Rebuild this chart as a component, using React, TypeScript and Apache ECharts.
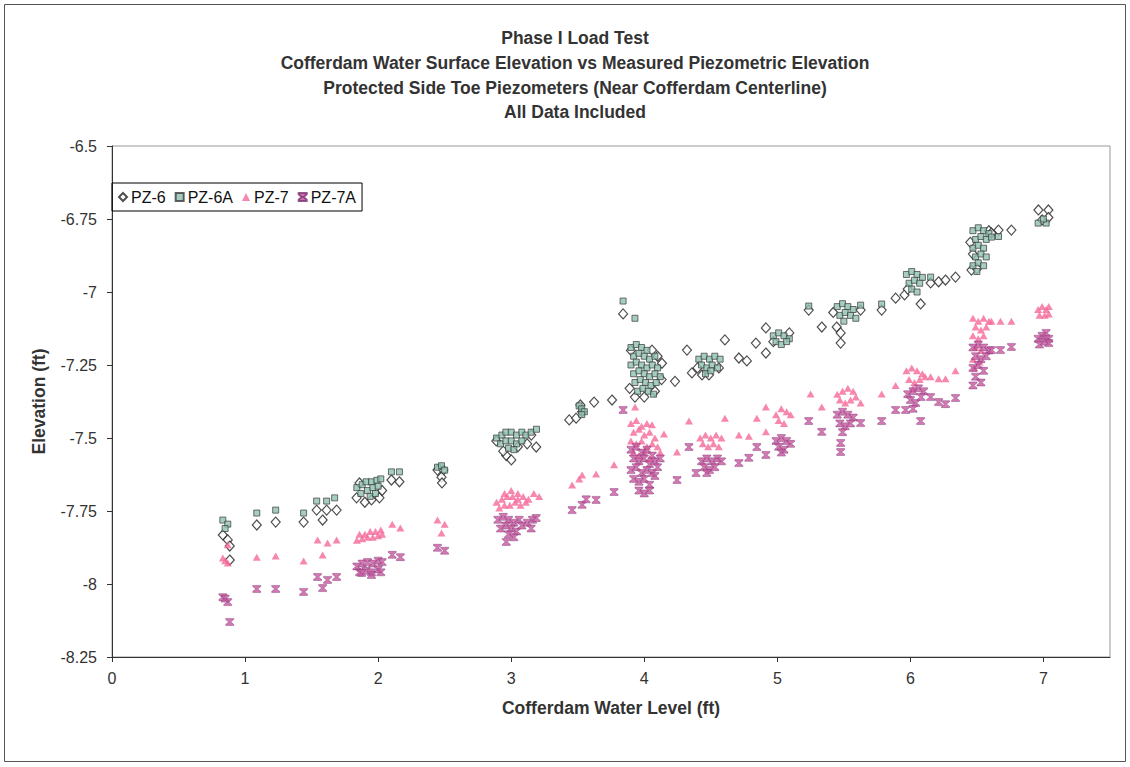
import React, { useEffect, useRef } from "react";
import * as echarts from "echarts";

const titleLines = [
  "Phase I Load Test",
  "Cofferdam Water Surface Elevation vs Measured Piezometric Elevation",
  "Protected Side Toe Piezometers (Near Cofferdam Centerline)",
  "All Data Included",
];
const xAxisName = "Cofferdam Water Level (ft)";
const yAxisName = "Elevation (ft)";
const seriesNames = ["PZ-6", "PZ-6A", "PZ-7", "PZ-7A"];

const pz6: number[][] = [
  [0.833, -7.832], [0.87, -7.849], [0.885, -7.87], [0.885, -7.918],
  [1.088, -7.798], [1.23, -7.788], [1.44, -7.788],
  [1.538, -7.747], [1.613, -7.747], [1.688, -7.747], [1.583, -7.781],
  [1.838, -7.705], [1.95, -7.712], [2.01, -7.705], [1.86, -7.654], [2.03, -7.68], [1.9, -7.72],
  [2.1, -7.644], [2.16, -7.65],
  [2.446, -7.61], [2.49, -7.61], [2.476, -7.634], [2.48, -7.654],
  [2.888, -7.51], [2.963, -7.56], [3.001, -7.575], [3.188, -7.531], [3.151, -7.49], [2.94, -7.545], [3.05, -7.53], [3.12, -7.52],
  [3.436, -7.438], [3.488, -7.432], [3.533, -7.41], [3.52, -7.387], [3.623, -7.377], [3.758, -7.37],
  [3.841, -7.075],
  [4.058, -7.199], [4.133, -7.244], [4.231, -7.306],
  [3.89, -7.33], [3.93, -7.36], [4.0, -7.36], [4.08, -7.34], [4.13, -7.3], [3.9, -7.2], [4.1, -7.22],
  [4.321, -7.199], [4.358, -7.277], [4.434, -7.284], [4.486, -7.284], [4.561, -7.26], [4.606, -7.164], [4.4, -7.26],
  [4.711, -7.226], [4.771, -7.236], [4.839, -7.175], [4.914, -7.123], [4.914, -7.209], [4.97, -7.17], [5.09, -7.14],
  [5.236, -7.062], [5.334, -7.12], [5.446, -7.12], [5.476, -7.14], [5.476, -7.175], [5.626, -7.062], [5.42, -7.07],
  [5.784, -7.062], [5.889, -7.021], [5.956, -7.01], [6.077, -7.041], [6.152, -6.969], [6.212, -6.965], [6.264, -6.959], [6.339, -6.949], [5.98, -6.99],
  [6.459, -6.925], [6.47, -6.87], [6.45, -6.83], [6.59, -6.79], [6.609, -6.798], [6.662, -6.788], [6.759, -6.788], [6.5, -6.92],
  [6.962, -6.719], [7.037, -6.719], [6.99, -6.753], [7.037, -6.745],
];

const pz6a: number[][] = [
  [0.833, -7.781], [0.87, -7.795], [0.85, -7.81],
  [1.088, -7.757], [1.23, -7.747], [1.44, -7.757],
  [1.538, -7.716], [1.613, -7.716], [1.673, -7.705],
  [1.84, -7.67], [1.88, -7.66], [1.91, -7.65], [1.95, -7.65], [1.99, -7.645], [2.02, -7.64],
  [1.87, -7.69], [1.92, -7.68], [1.96, -7.67], [2.0, -7.665], [1.94, -7.7], [1.98, -7.69],
  [2.1, -7.616], [2.16, -7.616],
  [2.446, -7.6], [2.476, -7.595], [2.5, -7.61],
  [2.89, -7.5], [2.93, -7.49], [2.96, -7.48], [3.0, -7.48], [3.04, -7.49], [3.08, -7.48], [3.11, -7.49], [3.15, -7.48], [3.19, -7.47],
  [2.92, -7.52], [2.96, -7.51], [3.0, -7.51], [3.04, -7.52], [3.08, -7.51], [2.98, -7.535], [3.02, -7.54],
  [3.51, -7.39], [3.53, -7.4], [3.55, -7.41], [3.53, -7.42],
  [3.841, -7.031], [3.93, -7.09],
  [3.9, -7.19], [3.94, -7.18], [3.98, -7.19], [4.02, -7.2], [3.92, -7.22], [3.96, -7.21], [4.0, -7.22], [4.04, -7.23], [4.08, -7.22],
  [3.9, -7.25], [3.94, -7.24], [3.98, -7.25], [4.02, -7.26], [4.06, -7.25], [4.1, -7.26],
  [3.92, -7.28], [3.96, -7.27], [4.0, -7.28], [4.04, -7.29], [4.08, -7.28], [4.12, -7.29],
  [3.93, -7.31], [3.97, -7.3], [4.01, -7.31], [4.05, -7.32], [4.09, -7.31],
  [3.95, -7.34], [3.99, -7.33], [4.03, -7.34], [4.07, -7.35],
  [4.41, -7.23], [4.45, -7.22], [4.49, -7.23], [4.53, -7.22], [4.57, -7.23],
  [4.43, -7.25], [4.47, -7.26], [4.51, -7.25], [4.55, -7.26], [4.46, -7.28], [4.5, -7.27],
  [4.97, -7.15], [5.01, -7.14], [5.05, -7.15], [5.09, -7.16], [4.99, -7.17], [5.03, -7.18], [5.07, -7.17],
  [5.236, -7.048],
  [5.45, -7.05], [5.49, -7.04], [5.53, -7.05], [5.57, -7.06], [5.47, -7.08], [5.51, -7.07], [5.55, -7.08], [5.59, -7.09], [5.5, -7.1], [5.626, -7.045],
  [5.784, -7.041],
  [5.97, -6.94], [6.01, -6.93], [6.05, -6.94], [6.09, -6.95], [5.99, -6.97], [6.03, -6.96], [6.07, -6.97], [6.01, -6.99], [6.05, -7.0],
  [6.152, -6.949],
  [6.47, -6.79], [6.51, -6.78], [6.55, -6.79], [6.59, -6.8], [6.49, -6.82], [6.53, -6.81], [6.57, -6.82],
  [6.47, -6.85], [6.51, -6.84], [6.55, -6.85], [6.49, -6.88], [6.53, -6.87], [6.57, -6.88],
  [6.47, -6.91], [6.51, -6.9], [6.55, -6.91], [6.5, -6.93],
  [6.609, -6.812], [6.662, -6.81],
  [6.96, -6.764], [7.02, -6.764], [7.0, -6.75],
];

const pz7: number[][] = [
  [0.833, -7.911], [0.87, -7.928], [0.85, -7.92], [0.87, -7.866],
  [1.088, -7.908], [1.23, -7.904], [1.44, -7.921],
  [1.545, -7.849], [1.62, -7.86], [1.688, -7.849], [1.583, -7.901],
  [1.84, -7.85], [1.88, -7.845], [1.92, -7.84], [1.96, -7.84], [2.0, -7.835], [2.03, -7.83],
  [1.86, -7.83], [1.9, -7.83], [1.94, -7.82], [1.98, -7.82], [2.02, -7.815],
  [2.106, -7.795], [2.167, -7.808],
  [2.446, -7.781], [2.5, -7.795], [2.476, -7.825],
  [2.89, -7.72], [2.93, -7.71], [2.97, -7.7], [3.01, -7.7], [3.05, -7.71], [3.09, -7.7], [3.13, -7.71], [3.17, -7.69], [3.21, -7.7],
  [2.91, -7.74], [2.95, -7.73], [2.99, -7.73], [3.03, -7.72], [3.07, -7.73], [3.11, -7.72], [2.95, -7.69], [3.0, -7.68], [3.05, -7.69],
  [3.458, -7.661], [3.511, -7.64], [3.533, -7.627], [3.638, -7.623], [3.773, -7.592],
  [3.931, -7.394], [4.058, -7.455], [4.148, -7.486], [4.246, -7.548],
  [3.9, -7.45], [3.94, -7.44], [3.98, -7.46], [4.02, -7.45], [3.92, -7.48], [3.96, -7.47], [4.0, -7.49], [4.04, -7.48], [4.08, -7.5],
  [3.9, -7.51], [3.94, -7.52], [3.98, -7.51], [4.02, -7.53], [4.06, -7.52], [4.1, -7.53],
  [3.92, -7.55], [3.96, -7.56], [4.0, -7.55], [4.04, -7.57], [4.12, -7.55],
  [4.336, -7.442], [4.606, -7.432],
  [4.42, -7.5], [4.46, -7.49], [4.5, -7.5], [4.54, -7.49], [4.58, -7.5], [4.44, -7.52], [4.48, -7.53], [4.52, -7.52], [4.56, -7.53],
  [4.711, -7.49], [4.786, -7.494], [4.846, -7.432], [4.914, -7.479], [4.914, -7.394],
  [4.99, -7.42], [5.03, -7.4], [5.07, -7.41], [5.1, -7.42], [5.01, -7.44], [5.05, -7.45],
  [5.25, -7.349], [5.334, -7.394],
  [5.45, -7.35], [5.49, -7.34], [5.53, -7.33], [5.57, -7.34], [5.47, -7.37], [5.51, -7.38], [5.55, -7.37], [5.59, -7.36], [5.626, -7.38],
  [5.784, -7.349], [5.889, -7.32],
  [5.97, -7.27], [6.01, -7.26], [6.05, -7.27], [6.09, -7.28], [5.99, -7.3], [6.03, -7.31], [6.07, -7.3], [6.11, -7.29], [6.02, -7.33],
  [6.152, -7.29], [6.212, -7.297], [6.264, -7.297], [6.339, -7.27],
  [6.47, -7.09], [6.51, -7.1], [6.55, -7.09], [6.59, -7.1], [6.49, -7.12], [6.53, -7.13], [6.57, -7.12],
  [6.47, -7.15], [6.51, -7.16], [6.55, -7.15], [6.49, -7.19], [6.53, -7.2], [6.47, -7.23], [6.52, -7.24], [6.48, -7.26],
  [6.609, -7.1], [6.677, -7.1], [6.759, -7.1],
  [6.96, -7.06], [6.99, -7.05], [7.02, -7.06], [7.04, -7.05], [6.97, -7.08], [7.01, -7.08], [7.04, -7.075],
];

const pz7a: number[][] = [
  [0.833, -8.045], [0.87, -8.062], [0.885, -8.13], [0.85, -8.05],
  [1.088, -8.017], [1.23, -8.017], [1.44, -8.027],
  [1.545, -7.976], [1.62, -7.986], [1.688, -7.976], [1.583, -8.014],
  [1.84, -7.94], [1.88, -7.93], [1.92, -7.925], [1.96, -7.93], [2.0, -7.92], [2.03, -7.925],
  [1.86, -7.96], [1.91, -7.955], [1.95, -7.96], [2.0, -7.95], [1.876, -7.962], [1.95, -7.969], [2.02, -7.96],
  [2.106, -7.9], [2.167, -7.908],
  [2.446, -7.876], [2.5, -7.886],
  [2.9, -7.78], [2.94, -7.77], [2.98, -7.78], [3.02, -7.79], [3.06, -7.78],
  [2.92, -7.81], [2.96, -7.8], [3.0, -7.81], [3.04, -7.82], [3.08, -7.8], [3.12, -7.79], [3.16, -7.78],
  [2.98, -7.83], [3.02, -7.84], [2.963, -7.856], [3.188, -7.774], [3.15, -7.81],
  [3.458, -7.747], [3.533, -7.729], [3.563, -7.71], [3.638, -7.712], [3.773, -7.685],
  [3.841, -7.404], [4.246, -7.644], [4.389, -7.62], [4.336, -7.531],
  [3.9, -7.54], [3.94, -7.53], [3.98, -7.55], [4.02, -7.54], [4.06, -7.56],
  [3.92, -7.57], [3.96, -7.58], [4.0, -7.57], [4.04, -7.59], [4.08, -7.58], [4.12, -7.57],
  [3.9, -7.61], [3.94, -7.6], [3.98, -7.62], [4.02, -7.61], [4.06, -7.62], [4.1, -7.6],
  [3.92, -7.64], [3.96, -7.65], [4.0, -7.64], [4.04, -7.66], [4.08, -7.63],
  [3.96, -7.68], [4.0, -7.69], [4.04, -7.68],
  [4.43, -7.58], [4.47, -7.57], [4.51, -7.58], [4.55, -7.57], [4.58, -7.58], [4.45, -7.6], [4.49, -7.61], [4.53, -7.6], [4.47, -7.62],
  [4.711, -7.586], [4.786, -7.568], [4.846, -7.531], [4.914, -7.558],
  [4.99, -7.51], [5.03, -7.5], [5.07, -7.51], [5.1, -7.52], [5.01, -7.53], [5.05, -7.54], [5.03, -7.55],
  [5.236, -7.442], [5.334, -7.479],
  [5.45, -7.42], [5.49, -7.41], [5.53, -7.42], [5.57, -7.43], [5.47, -7.45], [5.51, -7.46], [5.55, -7.45], [5.49, -7.48],
  [5.476, -7.517], [5.476, -7.548],
  [5.626, -7.449], [5.784, -7.442], [5.889, -7.404], [5.964, -7.404],
  [5.98, -7.35], [6.02, -7.34], [6.06, -7.33], [6.1, -7.34], [6.0, -7.37], [6.04, -7.38], [6.08, -7.36], [6.02, -7.4], [6.077, -7.442],
  [6.152, -7.36], [6.212, -7.377], [6.264, -7.384], [6.339, -7.363],
  [6.47, -7.19], [6.51, -7.18], [6.55, -7.19], [6.59, -7.2], [6.49, -7.22], [6.53, -7.23], [6.57, -7.22],
  [6.47, -7.26], [6.51, -7.25], [6.55, -7.27], [6.49, -7.29], [6.53, -7.31], [6.47, -7.32],
  [6.609, -7.199], [6.677, -7.199], [6.759, -7.188],
  [6.96, -7.16], [6.99, -7.15], [7.02, -7.14], [7.04, -7.16], [6.97, -7.18], [7.01, -7.17], [7.04, -7.175],
];

const hourglass =
  "path://M0,0L10,0L10,1.6L6.2,5L10,8.4L10,10L0,10L0,8.4L3.8,5L0,1.6Z";

const FONT = "'Liberation Sans', Arial, sans-serif";

export default function App() {
  const ref = useRef<HTMLDivElement>(null);
  useEffect(() => {
    if (!ref.current) return;
    const chart = echarts.init(ref.current, undefined, { renderer: "svg" });
    chart.setOption({
      animation: false,
      backgroundColor: "#ffffff",
      textStyle: { fontFamily: FONT },
      title: {
        text: titleLines.join("\n"),
        left: 570,
        textAlign: "center",
        top: 21,
        textStyle: {
          fontFamily: FONT,
          fontSize: 17.5,
          fontWeight: "bold",
          color: "#333",
          lineHeight: 24.7,
        },
      },
      graphic: [
        {
          type: "rect",
          shape: { x: 4.5, y: 4.5, width: 1121, height: 757 },
          style: { fill: "none", stroke: "#555", lineWidth: 1 },
          silent: true,
        },
      ],
      legend: {
        left: 112,
        top: 183,
        orient: "horizontal",
        data: seriesNames,
        selectedMode: false,
        borderColor: "#000",
        borderWidth: 1,
        padding: [6, 6, 6, 6],
        itemWidth: 8,
        itemHeight: 8,
        itemGap: 9,
        textStyle: { fontFamily: FONT, fontSize: 16, color: "#111", padding: [0, 0, 0, -1] },
      },
      grid: {
        left: 112,
        top: 146,
        right: 20,
        bottom: 110,
        show: true,
        borderColor: "#999",
        borderWidth: 1,
      },
      xAxis: {
        type: "value",
        min: 0,
        max: 7.5,
        interval: 1,
        name: xAxisName,
        nameLocation: "middle",
        nameGap: 42,
        nameTextStyle: { fontFamily: FONT, fontSize: 17.5, fontWeight: "bold", color: "#333" },
        axisLine: { show: true, onZero: false, lineStyle: { color: "#333", width: 1 } },
        axisTick: { show: true, inside: false, length: 5, lineStyle: { color: "#333" } },
        axisLabel: { showMaxLabel: false, margin: 13, fontFamily: FONT, fontSize: 16, color: "#333" },
        splitLine: { show: false },
      },
      yAxis: {
        type: "value",
        min: -8.25,
        max: -6.5,
        interval: 0.25,
        name: yAxisName,
        nameLocation: "middle",
        nameGap: 64,
        nameTextStyle: { fontFamily: FONT, fontSize: 17.5, fontWeight: "bold", color: "#333" },
        axisLine: { show: true, onZero: false, lineStyle: { color: "#333", width: 1 } },
        axisTick: { show: true, inside: false, length: 5, lineStyle: { color: "#333" } },
        axisLabel: { margin: 15, fontFamily: FONT, fontSize: 16, color: "#333" },
        splitLine: { show: false },
      },
      series: [
        {
          name: "PZ-6",
          type: "scatter",
          data: pz6,
          symbol: "diamond",
          symbolSize: [9, 10],
          itemStyle: { color: "#ffffff", borderColor: "#222", borderWidth: 1.2 },
          z: 2,
        },
        {
          name: "PZ-6A",
          type: "scatter",
          data: pz6a,
          symbol: "rect",
          symbolSize: 6,
          itemStyle: { color: "#8fc2b2", borderColor: "#3a3a3a", borderWidth: 0.9 },
          z: 3,
        },
        {
          name: "PZ-7",
          type: "scatter",
          data: pz7,
          symbol: "triangle",
          symbolSize: [8, 7],
          itemStyle: { color: "#f5699a" },
          z: 4,
        },
        {
          name: "PZ-7A",
          type: "scatter",
          data: pz7a,
          symbol: hourglass,
          symbolSize: [8, 7],
          itemStyle: { color: "#c7579f", borderColor: "#7a3270", borderWidth: 0.5 },
          z: 5,
        },
      ],
    });
    return () => chart.dispose();
  }, []);
  return (
    <div
      ref={ref}
      style={{ position: "fixed", left: 0, top: 0, width: 1130, height: 767, background: "#fff" }}
    />
  );
}
